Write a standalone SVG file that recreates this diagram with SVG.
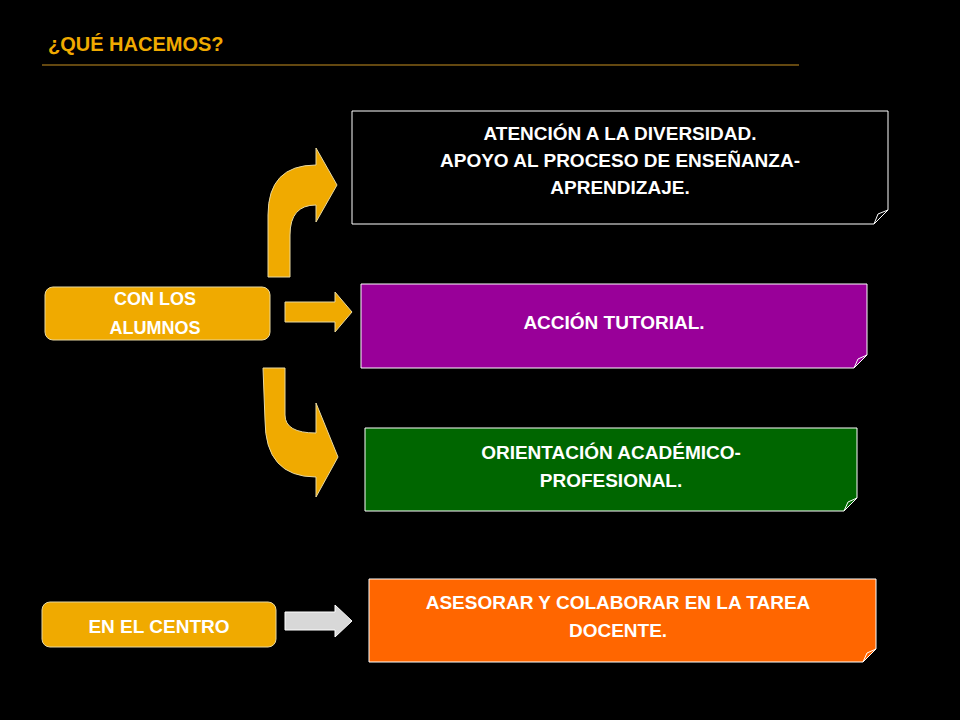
<svg xmlns="http://www.w3.org/2000/svg" width="960" height="720" viewBox="0 0 960 720">
<style>
text{font-family:"Liberation Sans",Arial,sans-serif;font-weight:bold;fill:#fff;text-anchor:middle}
.box{stroke:#fff;stroke-width:1}
.fold{fill:none;stroke:#fff;stroke-width:1}
.arr{fill:#F0AA00;stroke:#E8D8A0;stroke-width:1}
.pill{fill:#F0AA00;stroke:#E8D8A0;stroke-width:1}
</style>
<rect width="960" height="720" fill="#000"/>
<text x="48" y="51" style="text-anchor:start;fill:#F0AA00;font-size:20px">¿QUÉ HACEMOS?</text>
<line x1="42" y1="65" x2="799" y2="65" stroke="#C89020" stroke-width="1"/>
<g id="n1"><path class="box" d="M352 111H888V210L874 224H352Z" fill="#000"/><path class="fold" d="M874 224L878 214L888 210"/>
<text x="620" y="140" font-size="19">ATENCIÓN A LA DIVERSIDAD.</text><text x="620" y="167" font-size="19">APOYO AL PROCESO DE ENSEÑANZA-</text><text x="620" y="194" font-size="19">APRENDIZAJE.</text></g>
<g id="n2"><path class="box" d="M361 284H867V355L854 368H361Z" fill="#990099"/><path class="fold" d="M854 368L858 359L867 355"/>
<text x="614" y="329" font-size="19">ACCIÓN TUTORIAL.</text></g>
<g id="n3"><path class="box" d="M365 428H857V498L844 511H365Z" fill="#006600"/><path class="fold" d="M844 511L848 502L857 498"/>
<text x="611" y="459" font-size="19">ORIENTACIÓN ACADÉMICO-</text><text x="611" y="487" font-size="19">PROFESIONAL.</text></g>
<g id="n4"><path class="box" d="M369 579H876V649L863 662H369Z" fill="#FF6600"/><path class="fold" d="M863 662L867 653L876 649"/>
<text x="618" y="609" font-size="19">ASESORAR Y COLABORAR EN LA TAREA</text><text x="618" y="637" font-size="19">DOCENTE.</text></g>
<g id="alumnos"><rect class="pill" x="45" y="287" width="225" height="53" rx="8"/><text x="155" y="305" font-size="18">CON LOS</text><text x="155" y="334" font-size="18">ALUMNOS</text></g>
<g id="centro"><rect class="pill" x="42" y="602" width="234" height="45" rx="8"/><text x="159" y="633" font-size="19">EN EL CENTRO</text></g>
<g id="connectors">
<path class="arr" d="M268 277V215Q268 165 316 165V148L337 185L316 222V205Q290 205 290 235V277Z"/>
<path class="arr" d="M285 302H335V292L352 312L335 332V322H285Z"/>
<path class="arr" d="M263 368H285V415Q285 433 316 433V403L338 457L316 497V477Q265 477 265 420Z"/>
<path d="M285 612H335V605L352 621L335 637V630H285Z" fill="#D8D8D8" stroke="#fff" stroke-width="1"/>
</g>
</svg>
